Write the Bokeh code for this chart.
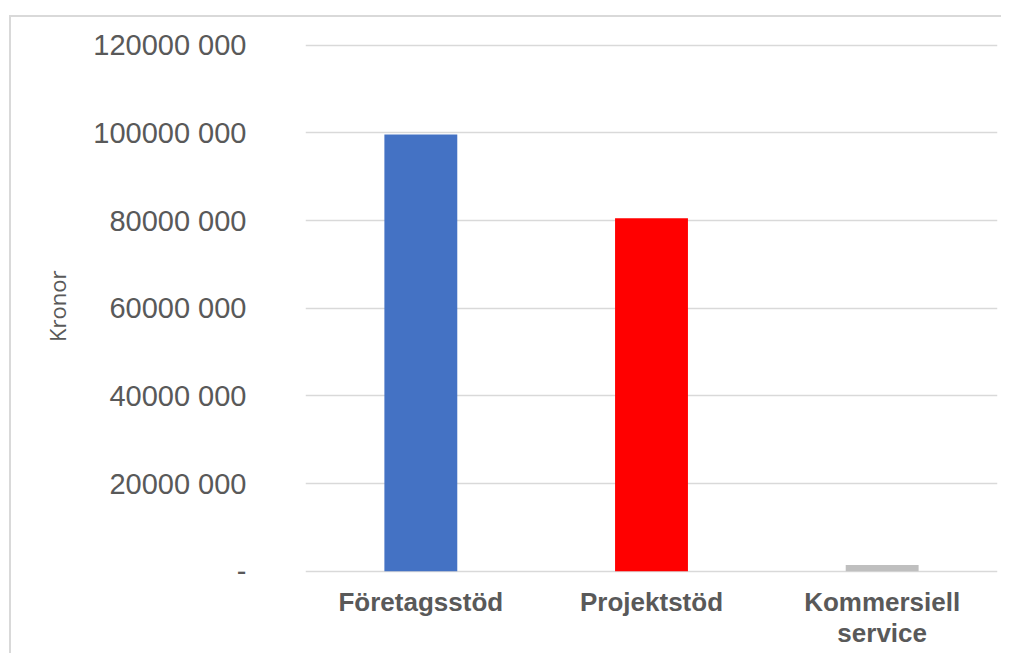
from bokeh.plotting import figure
from bokeh.models import Range1d, FactorRange, ColumnDataSource, FixedTicker, Title
from bokeh.core.properties import value
from bokeh.embed import file_html
from bokeh.resources import INLINE

categories = ["Företagsstöd", "Projektstöd", "Kommersiell service"]
category_line1 = ["Företagsstöd", "Projektstöd", "Kommersiell"]
category_line2 = ["", "", "service"]
values = [99_600_000, 80_500_000, 1_400_000]
colors = ["#4472C4", "#FF0000", "#BFBFBF"]
y_ticks = [0, 20_000_000, 40_000_000, 60_000_000, 80_000_000, 100_000_000, 120_000_000]
y_tick_labels = ["-", "20000 000", "40000 000", "60000 000", "80000 000", "100000 000", "120000 000"]

# layout (pixels)
px_per_unit = 4.367e-6          # pixels per krona
top_pad_px = 1.7                # frame space above the top gridline
below_zero_px = 84              # frame space below zero for category labels
y_start = -below_zero_px / px_per_unit
y_end = y_ticks[-1] + top_pad_px / px_per_unit
frame_h = round((y_end - y_start) * px_per_unit)

src = ColumnDataSource(dict(cat=categories, val=values, color=colors))

p = figure(
    width=992, height=28 + frame_h,
    x_range=FactorRange(*categories, range_padding=0),
    y_range=Range1d(y_start, y_end),
    output_backend="svg", toolbar_location=None,
    min_border_left=294, min_border_right=6, min_border_top=26, min_border_bottom=0,
)
p.styles = {"border-top": "2px solid #d9d9d9", "border-left": "2px solid #d9d9d9",
            "margin-top": "15px", "margin-left": "9px", "margin-bottom": "-12px"}

p.vbar(x="cat", top="val", width=0.316, color="color", source=src, line_color=None)

# category labels (two lines)
lab_src = ColumnDataSource(dict(
    cat=categories + categories,
    y=[-15.5 / px_per_unit] * 3 + [-46.5 / px_per_unit] * 3,
    text=category_line1 + category_line2,
))
p.text(x="cat", y="y", text="text", source=lab_src, text_align="center",
       text_baseline="top", text_font=value("Liberation Sans"),
       text_font_size="26px", text_font_style="bold", text_color="#595959")

p.outline_line_color = None
p.xgrid.grid_line_color = None
p.ygrid.grid_line_color = "#d9d9d9"
p.ygrid.grid_line_width = 1.3
p.xaxis.visible = False

p.yaxis.ticker = FixedTicker(ticks=y_ticks)
p.yaxis.major_label_overrides = {t: l for t, l in zip(y_ticks, y_tick_labels)}
p.yaxis.axis_line_color = None
p.yaxis.major_tick_line_color = None
p.yaxis.minor_tick_line_color = None
p.yaxis.major_label_text_font = "Liberation Sans"
p.yaxis.major_label_text_font_size = "29px"
p.yaxis.major_label_text_color = "#595959"
p.yaxis.major_label_standoff = 53

p.add_layout(Title(text="Kronor", align="right", offset=227, standoff=38,
                   text_font="Open Sans", text_font_size="22px",
                   text_font_style="normal", text_color="#595959"), "left")

open("out.html", "w").write(file_html(p, INLINE))
